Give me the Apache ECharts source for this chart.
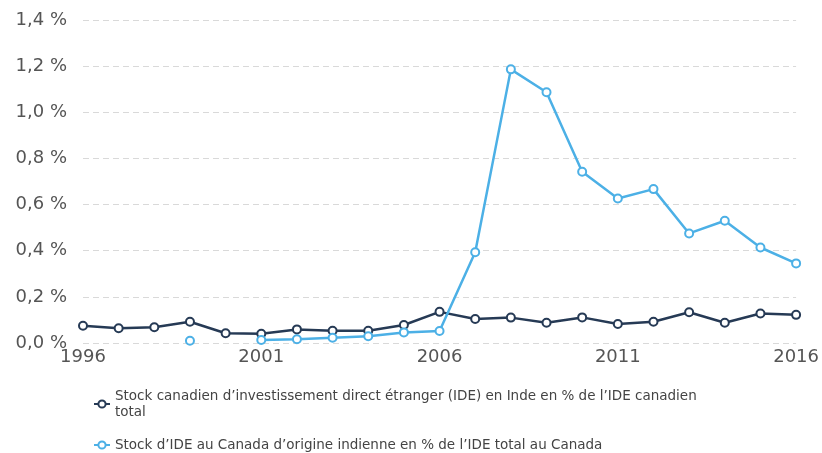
<!DOCTYPE html>
<html><head><meta charset="utf-8">
<script src="https://cdn.jsdelivr.net/npm/echarts@6/dist/echarts.min.js"></script>
<style>html,body{margin:0;padding:0;background:#fff}#c{width:822px;height:453px}</style>
</head><body><div id="c"></div>
<script>
const years = ['1996','1997','1998','1999','2000','2001','2002','2003','2004','2005','2006','2007','2008','2009','2010','2011','2012','2013','2014','2015','2016'];
const seriesNames = [
  'Stock canadien d’investissement direct étranger (IDE) en Inde en % de l’IDE canadien total',
  'Stock d’IDE au Canada d’origine indienne en % de l’IDE total au Canada'
];
const canadaInIndia = [0.075,0.064,0.068,0.092,0.042,0.040,0.059,0.053,0.053,0.078,0.135,0.104,0.110,0.088,0.111,0.082,0.092,0.133,0.088,0.128,0.122];
const indiaInCanada = [null,null,null,0.010,null,0.013,0.016,0.023,0.029,0.046,0.052,0.393,1.186,1.087,0.742,0.626,0.667,0.475,0.530,0.414,0.345];
const yTicks = {min:0, max:1.4, interval:0.2};

const chart = echarts.init(document.getElementById('c'));
const font = 'DejaVu Sans';
chart.setOption({
  animation:false,
  textStyle:{fontFamily:font},
  grid:{left:83, right:23, top:20, bottom:110},
  xAxis:{type:'category', data:years, boundaryGap:false,
    axisLine:{show:false}, axisTick:{show:false},
    axisLabel:{interval:4, color:'#555', fontSize:18, margin:5, fontFamily:font}},
  yAxis:{type:'value', min:yTicks.min, max:yTicks.max, interval:yTicks.interval,
    axisLine:{show:false}, axisTick:{show:false},
    splitLine:{lineStyle:{color:'#d9d9d9', type:[6,4], width:1}},
    axisLabel:{color:'#555', fontSize:18, margin:16, fontFamily:font,
      formatter:v=>v.toFixed(1).replace('.',',')+' %'}},
  legend:{orient:'vertical', left:88, top:383, itemGap:17, itemWidth:16, itemHeight:9,
    textStyle:{color:'#444', fontSize:13.5, fontFamily:font, width:612, overflow:'break', lineHeight:16}},
  series:[
    {name:seriesNames[0], type:'line', data:canadaInIndia, symbol:'emptyCircle', symbolSize:8,
      lineStyle:{color:'#263a55', width:2.5}, itemStyle:{color:'#263a55', borderWidth:1.5}},
    {name:seriesNames[1], type:'line', data:indiaInCanada, symbol:'emptyCircle', symbolSize:8,
      lineStyle:{color:'#4cb0e6', width:2.5}, itemStyle:{color:'#4cb0e6', borderWidth:1.5}}
  ]
});
</script></body></html>
